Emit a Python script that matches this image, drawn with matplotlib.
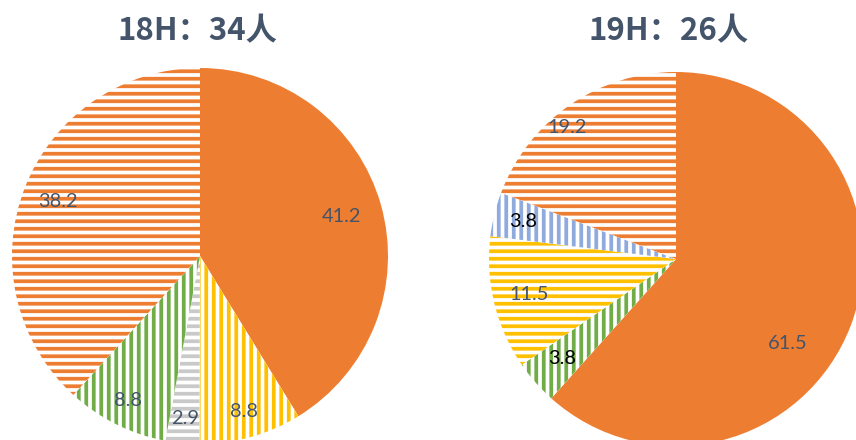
import numpy as np
import matplotlib.pyplot as plt

plt.rcParams['font.family'] = ['Lato', 'DejaVu Sans']
plt.rcParams['hatch.linewidth'] = 3.0

# データ（時間帯ごとの割合 %）
titles = ["18H：34人", "19H：26人"]
values_18 = [41.2, 8.8, 2.9, 8.8, 38.2]
values_19 = [61.5, 3.8, 11.5, 3.8, 19.2]

# 配色とハッチ
orange, yellow, green, gray, blue = "#ED7D31", "#FFC000", "#70AD47", "#C9C9C9", "#8FAADC"
slate = "#44546A"
colors_18 = [orange, yellow, gray, green, orange]
hatches_18 = [None, "||", "--", "||", "--"]
colors_19 = [orange, green, yellow, blue, orange]
hatches_19 = [None, "||", "--", "||", "--"]
txtcol_18 = [slate] * 5
txtcol_19 = [slate, "black", slate, "black", slate]
# ラベル位置の微調整（半径比, 角度のずれ）
dist_18 = [0.78, 0.86, 0.87, 0.86, 0.81]
dist_19 = [0.75, 0.81, 0.81, 0.84, 0.91]
shift_19 = [-16, 0, 0, 0, 5]

W, H, DPI = 856, 440, 90
fig = plt.figure(figsize=(W / DPI, H / DPI), dpi=DPI)


def draw(cx, cy, r, vals, cols, hats, tcols, dists, shifts, title, tx):
    ax = fig.add_axes([(cx - r) / W, (H - cy - r) / H, 2 * r / W, 2 * r / H])
    wedges, _ = ax.pie(vals, startangle=90, counterclock=False, radius=1)
    for w, c, h in zip(wedges, cols, hats):
        w.set_linewidth(0)
        if h is None:
            w.set_facecolor(c)
            w.set_edgecolor(c)
        else:
            w.set_facecolor("white")
            w.set_edgecolor(c)
            w.set_hatch(h)
    for w, v, tc, d, s in zip(wedges, vals, tcols, dists, shifts):
        a = np.deg2rad((w.theta1 + w.theta2) / 2 + s)
        ax.text(d * np.cos(a), d * np.sin(a), f"{v:.1f}", color=tc,
                fontsize=16, ha="center", va="center")
    ax.set_xlim(-1, 1)
    ax.set_ylim(-1, 1)
    ax.set_aspect("equal")
    ax.axis("off")
    fig.text(tx / W, 1 - 31 / H, title, ha="center", va="center",
             fontsize=25, fontweight="bold", color=slate,
             family=["Noto Sans CJK SC", "DejaVu Sans"])


draw(200, 256, 188, values_18, colors_18, hatches_18, txtcol_18, dist_18,
     [0] * 5, titles[0], 197.5)
draw(676, 259, 187, values_19, colors_19, hatches_19, txtcol_19, dist_19,
     shift_19, titles[1], 669)

fig.savefig("out.png", dpi=DPI)
